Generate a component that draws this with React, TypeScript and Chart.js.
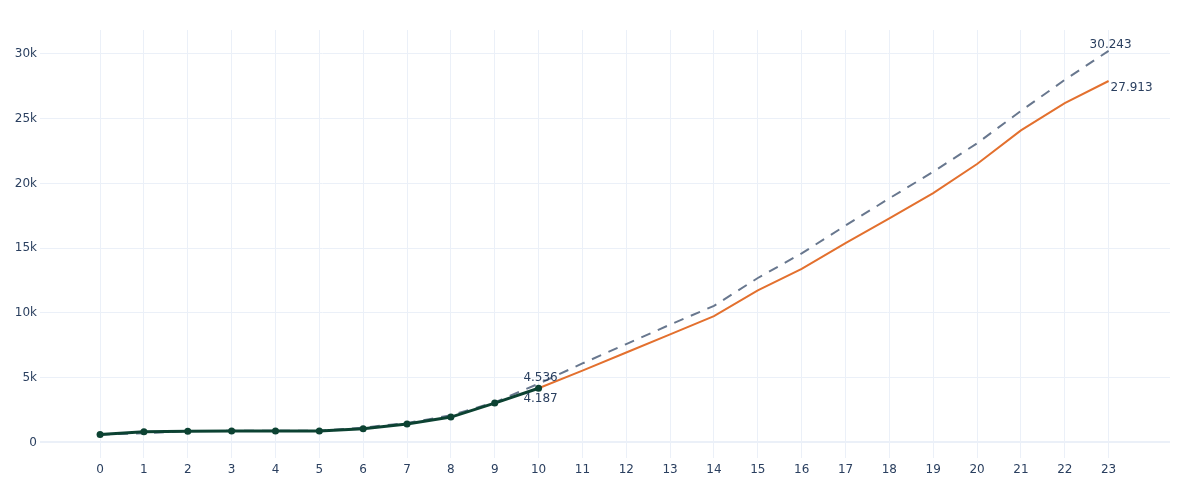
import React, { useEffect, useRef } from "react";
import { Chart, registerables } from "chart.js";

Chart.register(...registerables);

const xTicks = [0, 1, 2, 3, 4, 5, 6, 7, 8, 9, 10, 11, 12, 13, 14, 15, 16, 17, 18, 19, 20, 21, 22, 23];
const yTicks = [0, 5000, 10000, 15000, 20000, 25000, 30000];

const actualX = [0, 1, 2, 3, 4, 5, 6, 7, 8, 9, 10];
const actualY = [610, 830, 870, 880, 880, 890, 1060, 1420, 1960, 3040, 4187];

const upperX = [0, 1, 2, 3, 4, 5, 6, 7, 8, 9, 10, 11, 12, 13, 14, 15, 16, 17, 18, 19, 20, 21, 22, 23];
const upperY = [600, 720, 880, 900, 910, 900, 1150, 1500, 2100, 3100, 4536, 6100, 7600, 9100, 10550, 12700, 14600, 16750, 18850, 20900, 23100, 25600, 28000, 30243];

const forecastX = [10, 11, 12, 13, 14, 15, 16, 17, 18, 19, 20, 21, 22, 23];
const forecastY = [4187, 5550, 6950, 8350, 9750, 11750, 13400, 15400, 17300, 19250, 21500, 24100, 26200, 27913];

// labelled points: [series, index, placement]
const labelSeries = ["upper", "actual", "upper", "forecast"];
const labelIndex = [10, 10, 23, 13];
const labelPlace = ["top", "bottom", "top", "right"];

const fmt = (v: number) => Math.round(v).toString().replace(/\B(?=(\d{3})+(?!\d))/g, ".");

const seriesData: Record<string, { x: number[]; y: number[] }> = {
  actual: { x: actualX, y: actualY },
  upper: { x: upperX, y: upperY },
  forecast: { x: forecastX, y: forecastY },
};

const FONT = "'DejaVu Sans', Verdana, sans-serif";
const TEXT = "#2a3f5f";
const GRID = "#EBF0F8";

export default function App() {
  const ref = useRef<HTMLCanvasElement>(null);
  useEffect(() => {
    if (!ref.current) return;
    const toPts = (xs: number[], ys: number[]) => xs.map((x, i) => ({ x, y: ys[i] }));
    const labelPlugin = {
      id: "pointLabels",
      afterDatasetsDraw(chart: any) {
        const ctx = chart.ctx;
        const xs = chart.scales.x;
        const ys = chart.scales.y;
        ctx.save();
        ctx.font = `12px ${FONT}`;
        ctx.fillStyle = TEXT;
        labelSeries.forEach((s, k) => {
          const d = seriesData[s];
          const i = labelIndex[k];
          const px = xs.getPixelForValue(d.x[i]);
          const py = ys.getPixelForValue(d.y[i]);
          const t = fmt(d.y[i]);
          const p = labelPlace[k];
          if (p === "top") {
            ctx.textAlign = "center";
            ctx.textBaseline = "alphabetic";
            ctx.fillText(t, px + 2, py - 3);
          } else if (p === "bottom") {
            ctx.textAlign = "center";
            ctx.textBaseline = "alphabetic";
            ctx.fillText(t, px + 2, py + 14);
          } else {
            ctx.textAlign = "left";
            ctx.textBaseline = "alphabetic";
            ctx.fillText(t, px + 2, py + 10);
          }
        });
        ctx.restore();
      },
    };
    const chart = new Chart(ref.current, {
      type: "line",
      data: {
        datasets: [
          {
            label: "actual",
            data: toPts(actualX, actualY),
            borderColor: "#0c4232",
            backgroundColor: "#0c4232",
            borderWidth: 3,
            pointRadius: 3.5,
            pointBorderWidth: 0,
            order: 0,
          },
          {
            label: "forecast",
            data: toPts(forecastX, forecastY),
            borderColor: "#e3702e",
            borderWidth: 2,
            pointRadius: 0,
            order: 1,
          },
          {
            label: "upper",
            data: toPts(upperX, upperY),
            borderColor: "#68778e",
            borderWidth: 2,
            borderDash: [10, 8],
            pointRadius: 0,
            order: 2,
          },
        ],
      },
      options: {
        animation: false,
        responsive: true,
        maintainAspectRatio: false,
        layout: { padding: { top: 30, right: 30, bottom: 0, left: 0 } },
        plugins: { legend: { display: false }, tooltip: { enabled: false } },
        scales: {
          x: {
            type: "linear",
            min: -1.37,
            max: 24.4,
            afterBuildTicks: (s: any) => {
              s.ticks = xTicks.map((v) => ({ value: v }));
            },
            afterFit: (s: any) => {
              s.height = 42;
            },
            grid: { color: GRID, lineWidth: 1, drawTicks: false },
            border: { display: false },
            ticks: { color: TEXT, font: { family: FONT, size: 12 }, padding: 5, maxRotation: 0, autoSkip: false },
          },
          y: {
            type: "linear",
            min: -1200,
            max: 31850,
            afterBuildTicks: (s: any) => {
              s.ticks = yTicks.map((v) => ({ value: v }));
            },
            afterFit: (s: any) => {
              s.width = 40;
            },
            grid: {
              color: GRID,
              lineWidth: (c: any) => (c.tick && c.tick.value === 0 ? 2 : 1),
              drawTicks: false,
            },
            border: { display: false },
            ticks: {
              color: TEXT,
              font: { family: FONT, size: 12 },
              padding: 3,
              callback: (v: any) => (v === 0 ? "0" : `${v / 1000}k`),
            },
          },
        },
      },
      plugins: [labelPlugin],
    });
    return () => chart.destroy();
  }, []);
  return (
    <div style={{ position: "fixed", left: 0, top: 0, width: 1200, height: 500, background: "#fff" }}>
      <canvas ref={ref} />
    </div>
  );
}
